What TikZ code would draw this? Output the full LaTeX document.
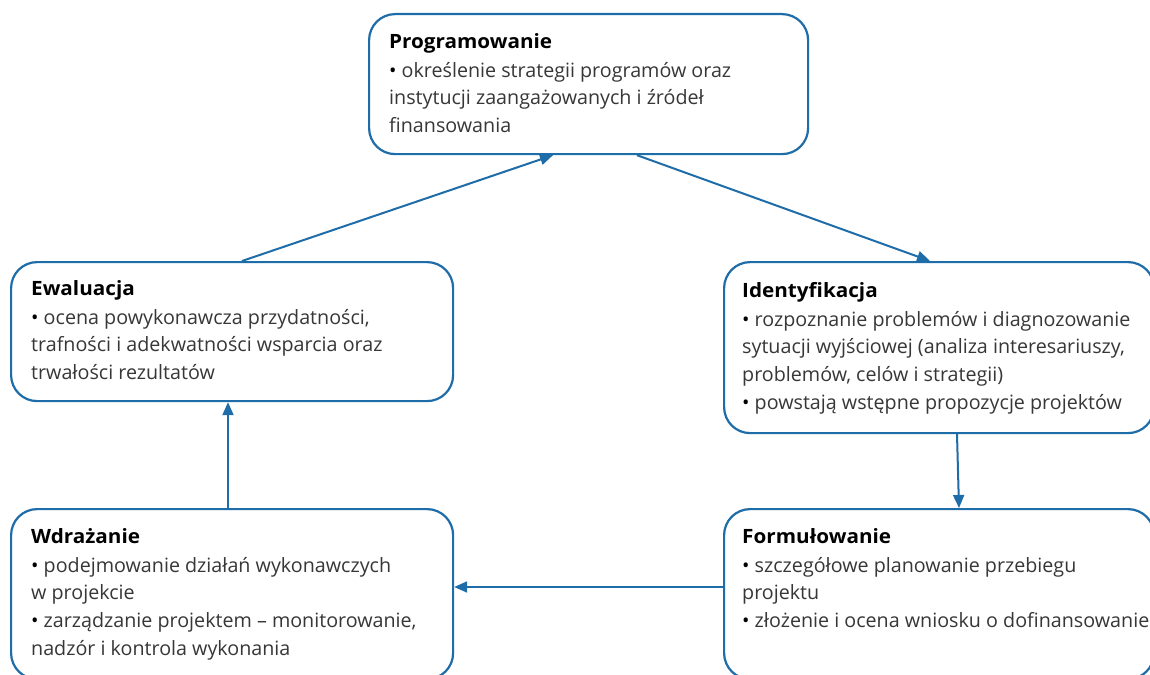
\documentclass[tikz,border=0pt]{standalone}
\usepackage{fontspec}
\setmainfont[BoldFeatures={FakeStretch=1.05}]{Open Sans}
\usetikzlibrary{calc,arrows.meta}
\definecolor{boxblue}{RGB}{30,108,168}
\definecolor{txt}{RGB}{55,55,55}
\begin{document}
\begin{tikzpicture}[x=1pt,y=-1pt,
  stagebox/.style={draw=boxblue,line width=2.2pt,rounded corners=26pt,fill=white,inner sep=0pt,anchor=north west},
  stagetext/.style={anchor=north west,inner sep=0pt,align=left,text=txt,font=\fontsize{19.7}{27.7}\selectfont},
  arr/.style={draw=boxblue,line width=2pt,-{Triangle[length=13pt,width=11pt]}}]
\useasboundingbox (0,0) rectangle (1150,674);
\clip (0,0) rectangle (1150,674);
\newcommand{\ttl}[1]{\rule{0pt}{17pt}\textbf{\color{black}#1}\\[1.3pt]}
\newcommand{\bul}{{\color{black}\textbullet}\ }
% boxes
\node[stagebox,minimum width=439pt,minimum height=140pt] (prog) at (368,13) {};
\node[stagebox,minimum width=442pt,minimum height=139pt] (ewal) at (10,261) {};
\node[stagebox,minimum width=430pt,minimum height=171pt] (iden) at (723,261) {};
\node[stagebox,minimum width=430pt,minimum height=170pt] (form) at (723,508) {};
\node[stagebox,minimum width=442pt,minimum height=170pt] (wdr) at (10,508) {};
% texts
\node[stagetext] (progt) at (389,31) {\ttl{Programowanie}\bul określenie strategii programów oraz\\instytucji zaangażowanych i źródeł\\finansowania};
\node[stagetext] (ewalt) at (31,278) {\ttl{Ewaluacja}\bul ocena powykonawcza przydatności,\\trafności i adekwatności wsparcia oraz\\trwałości rezultatów};
\node[stagetext] (ident) at (742,280) {\ttl{Identyfikacja}\bul rozpoznanie problemów i diagnozowanie\\sytuacji wyjściowej (analiza interesariuszy,\\problemów, celów i strategii)\\\bul powstają wstępne propozycje projektów};
\node[stagetext] (formt) at (742,526) {\ttl{Formułowanie}\bul szczegółowe planowanie przebiegu\\projektu\\\bul złożenie i ocena wniosku o dofinansowanie};
\node[stagetext] (wdrt) at (31,526) {\ttl{Wdrażanie}\bul podejmowanie działań wykonawczych\\w projekcie\\\bul zarządzanie projektem – monitorowanie,\\nadzór i kontrola wykonania};
% connectors
\draw[arr] ($(ewal.north west)+(232,0)$) -- ($(prog.south west)+(185,0)$);
\draw[arr] ($(prog.south west)+(269,0)$) -- ($(iden.north west)+(207,0)$);
\draw[arr] ($(iden.south west)+(234,0)$) -- ($(form.north west)+(236,0)$);
\draw[arr] ($(form.north west)+(0,79)$) -- ($(wdr.north east)+(0,79)$);
\draw[arr] ($(wdr.north west)+(218,0)$) -- ($(ewal.south west)+(218,0)$);
\end{tikzpicture}
\end{document}
